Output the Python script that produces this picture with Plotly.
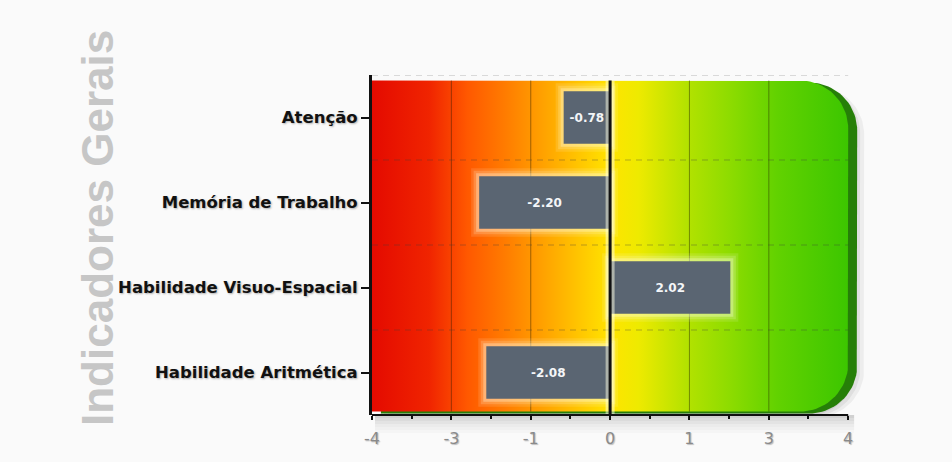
import numpy as np
import plotly.graph_objects as go

# ---------------- data ----------------
categories = ["Atenção", "Memória de Trabalho", "Habilidade Visuo-Espacial", "Habilidade Aritmética"]
values = [-0.78, -2.20, 2.02, -2.08]
x_tick_vals = [-4, -2.667, -1.333, 0, 1.333, 2.667, 4]
x_tick_text = ["-4", "-3", "-1", "0", "1", "3", "4"]
x_minor_vals = [-3.333, -2, -0.667, 0.667, 2, 3.333]
title_text = "Indicadores Gerais"

# ---------------- layout geometry ----------------
W, H = 952, 462
ML, MR, MT, MB = 372, 80, 75, 47
XMIN, XMAX = x_tick_vals[0], 4.4
n = len(categories)
YTOP, YBOT = -0.5, n - 0.5
SX = (W - ML - MR) / (XMAX - XMIN)      # px per x unit
SY = (H - MT - MB) / (YBOT - YTOP)      # px per y unit
PH = H - MT - MB

pos = list(range(n))

def panel(x0, x1, y0, y1, r_px, dx_px=0, dy_px=0):
    rx, ry = r_px / SX, r_px / SY
    ox, oy = dx_px / SX, dy_px / SY
    t1 = np.linspace(-np.pi / 2, 0, 24)
    t2 = np.linspace(0, np.pi / 2, 24)
    xs = [x0] + list(x1 - rx + rx * np.cos(t1)) + list(x1 - rx + rx * np.cos(t2)) + [x0, x0]
    ys = [y0] + list(y0 + ry + ry * np.sin(t1)) + list(y1 - ry + ry * np.sin(t2)) + [y1, y0]
    return [v + ox for v in xs], [v + oy for v in ys]

PX0, PX1 = x_tick_vals[0], x_tick_vals[-1]
PY0 = YTOP + 5.5 / SY
PY1 = YBOT - 3.5 / SY
RAD = 48

fig = go.Figure()

# ---- background subplot (x, y) ----
for dx, dy, a in [(16, 6, 0.05), (12, 5, 0.06), (8, 4, 0.07)]:
    xs, ys = panel(PX0, PX1, PY0, PY1, RAD, dx, dy)
    fig.add_trace(go.Scatter(x=xs, y=ys, mode="lines", line=dict(width=0),
                             fill="toself", fillcolor=f"rgba(0,0,0,{a})",
                             hoverinfo="skip", showlegend=False))
xs, ys = panel(PX0, PX1, PY0, PY1, RAD, 9, 2)
fig.add_trace(go.Scatter(x=xs, y=ys, mode="lines", line=dict(width=0),
                         fill="toself", fillcolor="#267f08",
                         hoverinfo="skip", showlegend=False))
xs, ys = panel(PX0, PX1, PY0, PY1, RAD)
fig.add_trace(go.Scatter(
    x=xs, y=ys, mode="lines", line=dict(width=0), fill="toself",
    fillgradient=dict(type="horizontal", colorscale=[
        [0.0, "#e40a00"], [0.12, "#f02400"], [0.2, "#ff5800"], [0.28, "#ff7c00"],
        [0.36, "#ffa200"], [0.44, "#ffc800"], [0.5, "#ffe400"], [0.56, "#eeea00"],
        [0.66, "#b4e200"], [0.75, "#8edc00"], [0.85, "#62d200"], [1.0, "#3cc600"]]),
    hoverinfo="skip", showlegend=False))

gx, gy = [], []
for v in x_tick_vals[1:-1]:
    if v == 0:
        continue
    gx += [v, v, None]
    gy += [PY0, PY1, None]
fig.add_trace(go.Scatter(x=gx, y=gy, mode="lines",
                         line=dict(color="rgba(40,30,0,0.45)", width=1),
                         hoverinfo="skip", showlegend=False))
hx, hy = [], []
for p in pos:
    hx += [PX0, PX1, None]
    hy += [p - 0.5, p - 0.5, None]
fig.add_trace(go.Scatter(x=hx, y=hy, mode="lines",
                         line=dict(color="rgba(60,60,60,0.35)", width=1, dash="6px,5px"),
                         hoverinfo="skip", showlegend=False))

# ---- data subplot (x, y2) drawn above ----
for lw, a in [(16, 0.12), (11, 0.18), (6, 0.3)]:
    fig.add_trace(go.Bar(x=values, y=pos, yaxis="y2", orientation="h", width=0.62,
                         marker=dict(color="rgba(255,255,235,0)",
                                     line=dict(color=f"rgba(255,255,235,{a})", width=lw)),
                         hoverinfo="skip", showlegend=False))
fig.add_trace(go.Bar(x=values, y=pos, yaxis="y2", orientation="h", width=0.62,
                     marker=dict(color="#5a6572", line=dict(width=0)),
                     texttemplate="%{x:.2f}", textposition="inside",
                     insidetextanchor="middle", textangle=0,
                     textfont=dict(family="DejaVu Sans", size=12, color="#f4f6f8", weight="bold"),
                     showlegend=False))
fig.add_trace(go.Scatter(x=[0, 0], y=[PY0, YBOT], yaxis="y2", mode="lines",
                         line=dict(color="rgba(255,255,225,0.5)", width=9),
                         hoverinfo="skip", showlegend=False))
fig.add_trace(go.Scatter(x=[0, 0], y=[PY0, YBOT], yaxis="y2", mode="lines",
                         line=dict(color="#111111", width=3),
                         hoverinfo="skip", showlegend=False))

# soft shadow beneath the x axis
shapes = []
for i, a in enumerate([0.16, 0.12, 0.09, 0.06, 0.04, 0.02]):
    shapes.append(dict(type="rect", xref="x", yref="paper", x0=PX0 + 0.05, x1=PX1 + 0.1,
                       y0=-(i + 1) * 3 / PH, y1=-i * 3 / PH, line=dict(width=0),
                       fillcolor=f"rgba(0,0,0,{a})", layer="below"))
shapes.append(dict(type="line", xref="x", yref="paper", x0=PX0, x1=PX1, y0=0, y1=0,
                   line=dict(color="#111", width=2), layer="above"))

fig.update_layout(
    width=W, height=H,
    margin=dict(l=ML, r=MR, t=MT, b=MB, pad=0),
    paper_bgcolor="#fafafa", plot_bgcolor="rgba(0,0,0,0)",
    barmode="overlay", showlegend=False,
    xaxis=dict(range=[XMIN, XMAX], tickvals=x_tick_vals, ticktext=x_tick_text,
               showgrid=False, zeroline=False, showline=False,
               ticks="outside", ticklen=4, tickwidth=2, tickcolor="#111",
               minor=dict(tickvals=x_minor_vals, ticks="outside", ticklen=3,
                          tickwidth=1.5, tickcolor="#111", showgrid=False),
               ticklabelstandoff=5,
               tickfont=dict(family="DejaVu Sans", size=16, color="#8a8a8a",
                             shadow="1px 1px 1px rgba(0,0,0,0.25)")),
    yaxis=dict(range=[YBOT, YTOP], tickvals=pos, ticktext=categories,
               showgrid=False, zeroline=False, showline=True, linewidth=3,
               linecolor="#111", ticks="outside", ticklen=8, tickwidth=2,
               tickcolor="#111",
               tickfont=dict(family="DejaVu Sans", size=16.5, color="#111", weight="bold",
                             shadow="1px 1px 2px rgba(0,0,0,0.3)")),
    yaxis2=dict(range=[YBOT, YTOP], overlaying="y", visible=False,
                showgrid=False, zeroline=False),
    shapes=shapes,
    annotations=[dict(text=title_text, textangle=-90, showarrow=False,
                      xref="paper", yref="paper",
                      x=(98 - ML) / (W - ML - MR), y=(H - MB - 228) / (H - MT - MB),
                      xanchor="center", yanchor="middle",
                      font=dict(family="Liberation Sans", size=44, color="#c6c6c6",
                                weight="bold"))],
)

fig.write_html("out.html")
